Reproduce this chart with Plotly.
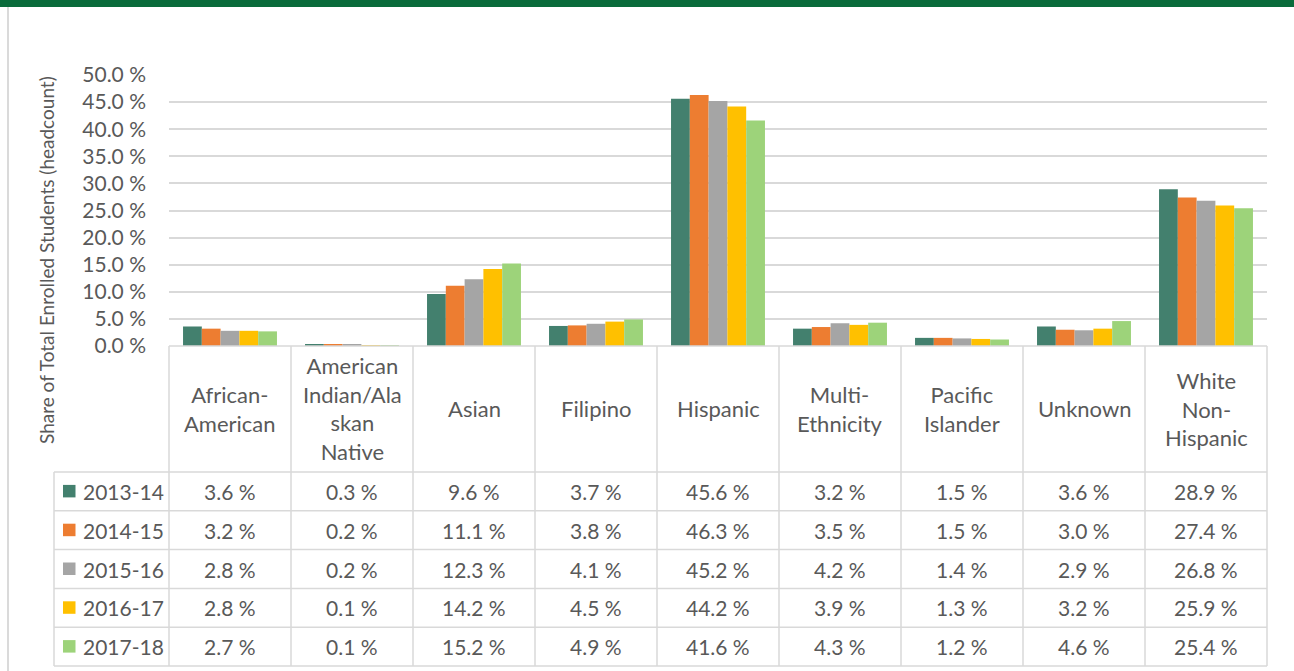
import plotly.graph_objects as go

categories = ["African-American", "American Indian/Alaskan Native", "Asian", "Filipino",
              "Hispanic", "Multi-Ethnicity", "Pacific Islander", "Unknown", "White Non-Hispanic"]
header_labels = ["African-<br>American", "American<br>Indian/Ala<br>skan<br>Native", "Asian",
                 "Filipino", "Hispanic", "Multi-<br>Ethnicity", "Pacific<br>Islander",
                 "Unknown", "White<br>Non-<br>Hispanic"]
years = ["2013-14", "2014-15", "2015-16", "2016-17", "2017-18"]
v_2013_14 = [3.6, 0.3, 9.6, 3.7, 45.6, 3.2, 1.5, 3.6, 28.9]
v_2014_15 = [3.2, 0.2, 11.1, 3.8, 46.3, 3.5, 1.5, 3.0, 27.4]
v_2015_16 = [2.8, 0.2, 12.3, 4.1, 45.2, 4.2, 1.4, 2.9, 26.8]
v_2016_17 = [2.8, 0.1, 14.2, 4.5, 44.2, 3.9, 1.3, 3.2, 25.9]
v_2017_18 = [2.7, 0.1, 15.2, 4.9, 41.6, 4.3, 1.2, 4.6, 25.4]
series = [v_2013_14, v_2014_15, v_2015_16, v_2016_17, v_2017_18]
colors = ["#43806E", "#ED7D31", "#A5A5A5", "#FFC000", "#9DD37A"]
tick_vals = [0, 5, 10, 15, 20, 25, 30, 35, 40, 45, 50]
tick_text = ["%.1f %%" % t for t in tick_vals]
y_title = "Share of Total Enrolled Students (headcount)"

W, H = 1294, 671
FONT = "Lato"
TXT = "#595959"
GRID = "#D9D9D9"

def px(x):
    return x / W

def py(y):
    return 1 - y / H

# layout geometry (pixels)
plot_left, plot_right = 169, 1267
plot_top, plot_bottom = 75, 346
header_bottom = 472
row_h = 38.8
legend_left = 54
ncat = len(categories)
col_w = (plot_right - plot_left) / ncat

fig = go.Figure()
for yr, vals, c in zip(years, series, colors):
    fig.add_trace(go.Bar(x=categories, y=vals, name=yr, marker=dict(color=c, line=dict(width=0))))

shapes = []
annotations = []
shapes.append(dict(type="rect", xref="paper", yref="paper", x0=0, x1=1, y0=py(7), y1=1,
                   fillcolor="#0A6B3B", line=dict(width=0), layer="above"))
shapes.append(dict(type="line", xref="paper", yref="paper", x0=px(8), x1=px(8), y0=0, y1=py(7),
                   line=dict(color="#DADADA", width=2)))

line_style = dict(color=GRID, width=1.5)
table_bottom = header_bottom + row_h * len(years)
shapes.append(dict(type="line", xref="paper", yref="paper", x0=px(plot_left), x1=px(plot_right),
                   y0=py(plot_bottom), y1=py(plot_bottom), line=line_style))
for r in range(len(years) + 1):
    yy = header_bottom + r * row_h
    shapes.append(dict(type="line", xref="paper", yref="paper", x0=px(legend_left), x1=px(plot_right),
                       y0=py(yy), y1=py(yy), line=line_style))
for k in range(ncat + 1):
    xx = plot_left + k * col_w
    shapes.append(dict(type="line", xref="paper", yref="paper", x0=px(xx), x1=px(xx),
                       y0=py(plot_bottom), y1=py(table_bottom), line=line_style))
shapes.append(dict(type="line", xref="paper", yref="paper", x0=px(legend_left), x1=px(legend_left),
                   y0=py(header_bottom), y1=py(table_bottom), line=line_style))

for k, lab in enumerate(header_labels):
    annotations.append(dict(xref="paper", yref="paper", x=px(plot_left + (k + 0.5) * col_w),
                            y=py((plot_bottom + header_bottom) / 2), text=lab, showarrow=False,
                            xanchor="center", yanchor="middle", align="center",
                            font=dict(family=FONT, size=22, color=TXT)))
for r, (yr, vals, c) in enumerate(zip(years, series, colors)):
    cy = header_bottom + (r + 0.5) * row_h
    shapes.append(dict(type="rect", xref="paper", yref="paper", x0=px(63), x1=px(75.5),
                       y0=py(cy + 6), y1=py(cy - 6.5), fillcolor=c, line=dict(width=0)))
    annotations.append(dict(xref="paper", yref="paper", x=px(81), y=py(cy), text=yr,
                            showarrow=False, xanchor="left", yanchor="middle",
                            font=dict(family=FONT, size=21, color=TXT)))
    for k, v in enumerate(vals):
        annotations.append(dict(xref="paper", yref="paper", x=px(plot_left + (k + 0.5) * col_w),
                                y=py(cy), text="%.1f %%" % v, showarrow=False,
                                xanchor="center", yanchor="middle",
                                font=dict(family=FONT, size=21, color=TXT)))
annotations.append(dict(xref="paper", yref="paper", x=px(46), y=py(260), text=y_title,
                        showarrow=False, textangle=-90, xanchor="center", yanchor="middle",
                        font=dict(family=FONT, size=19, color=TXT)))

fig.update_layout(
    width=W, height=H, autosize=False,
    margin=dict(l=0, r=0, t=0, b=0, pad=0),
    paper_bgcolor="white", plot_bgcolor="white",
    barmode="group", bargap=0.23, bargroupgap=0,
    showlegend=False,
    shapes=shapes, annotations=annotations,
    xaxis=dict(domain=[px(plot_left), px(plot_right)], showticklabels=False, showgrid=False,
               zeroline=False, showline=False, ticks="", automargin=False),
    yaxis=dict(domain=[py(plot_bottom), py(plot_top)], range=[0, 50], tickvals=tick_vals,
               ticktext=tick_text, showgrid=True, gridcolor=GRID, gridwidth=1.5,
               zeroline=False, showline=False, ticks="", ticklabelstandoff=22, automargin=False,
               tickfont=dict(family=FONT, size=21, color=TXT)),
)

fig.write_html("out.html", config={"displayModeBar": False},
               post_script="document.body.style.margin='0';document.body.style.overflow='hidden';")
